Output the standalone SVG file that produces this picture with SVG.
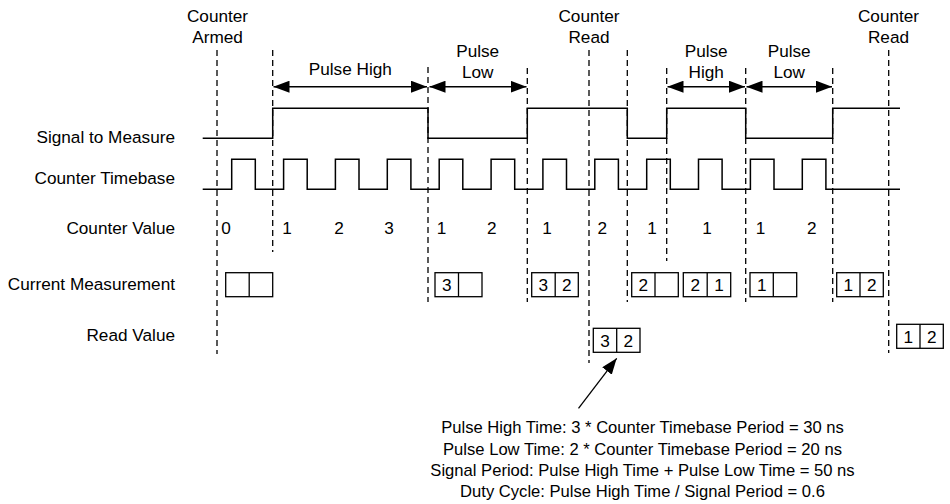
<svg xmlns="http://www.w3.org/2000/svg" width="950" height="504" viewBox="0 0 950 504">
<style>
text{font-family:"Liberation Sans",Arial,Helvetica,sans-serif;font-size:17.2px;fill:#000}
.r{text-anchor:end}
.m{text-anchor:middle}
.n{font-size:16.6px}
.dash{stroke:#000;stroke-width:1.3;stroke-dasharray:6 4;fill:none}
.wave{stroke:#000;stroke-width:1.5;fill:none}
.box{stroke:#000;stroke-width:1.3;fill:#fff}
.arr{stroke:#000;stroke-width:1.4;fill:none;marker-start:url(#ah);marker-end:url(#ah)}
</style>
<defs>
<marker id="ah" viewBox="0 0 16 12" refX="16" refY="6" markerWidth="16" markerHeight="12" markerUnits="userSpaceOnUse" orient="auto-start-reverse">
<path d="M0 0 L16 6 L0 12 Z" fill="#000"/>
</marker>
<marker id="ah2" viewBox="0 0 16 12" refX="16" refY="6" markerWidth="16" markerHeight="12" markerUnits="userSpaceOnUse" orient="auto">
<path d="M0 0 L16 6 L0 12 Z" fill="#000"/>
</marker>
</defs>
<rect width="950" height="504" fill="#fff"/>

<g id="row-labels">
<text class="r" x="175" y="142.7">Signal to Measure</text>
<text class="r" x="175" y="184.3">Counter Timebase</text>
<text class="r" x="175" y="234.3">Counter Value</text>
<text class="r" x="175" y="290">Current Measurement</text>
<text class="r" x="175" y="341">Read Value</text>
</g>

<g id="event-labels">
<text class="m" x="217.5" y="21.7">Counter</text>
<text class="m" x="217.5" y="42.5">Armed</text>
<text class="m" x="350.3" y="75">Pulse High</text>
<text class="m" x="477.7" y="57.3">Pulse</text>
<text class="m" x="477.7" y="77.5">Low</text>
<text class="m" x="589" y="21.7">Counter</text>
<text class="m" x="589" y="42.5">Read</text>
<text class="m" x="706.2" y="57.3">Pulse</text>
<text class="m" x="706.2" y="77.5">High</text>
<text class="m" x="789.2" y="57.3">Pulse</text>
<text class="m" x="789.2" y="77.5">Low</text>
<text class="m" x="888.5" y="21.7">Counter</text>
<text class="m" x="888.5" y="42.5">Read</text>
</g>

<g id="markers">
<line class="dash" x1="217" y1="50" x2="217" y2="354"/>
<line class="dash" x1="272.7" y1="50" x2="272.7" y2="252"/>
<line class="dash" x1="428" y1="67" x2="428" y2="302"/>
<line class="dash" x1="527.3" y1="68" x2="527.3" y2="302"/>
<line class="dash" x1="589" y1="50" x2="589" y2="363"/>
<line class="dash" x1="627.3" y1="50" x2="627.3" y2="302"/>
<line class="dash" x1="666.7" y1="68" x2="666.7" y2="261"/>
<line class="dash" x1="745.7" y1="68" x2="745.7" y2="302"/>
<line class="dash" x1="832.7" y1="68" x2="832.7" y2="302"/>
<line class="dash" x1="888.7" y1="50" x2="888.7" y2="353"/>
</g>

<g id="signal">
<path class="wave" d="M202.7 138.3 H272.7 V108.3 H428 V138.3 H527.3 V108.3 H627.3 V138.3 H666.7 V108.3 H745.7 V138.3 H832.7 V108.3 H900"/>
</g>

<g id="timebase">
<path class="wave" d="M202.7 189.3 H231.7 V159.3 H255.3 V189.3 H283.6 V159.3 H307.2 V189.3 H335.4 V159.3 H359 V189.3 H387.3 V159.3 H410.9 V189.3 H439.2 V159.3 H462.8 V189.3 H491.1 V159.3 H514.7 V189.3 H542.9 V159.3 H566.5 V189.3 H594.8 V159.3 H618.4 V189.3 H646.7 V159.3 H670.3 V189.3 H698.5 V159.3 H722.1 V189.3 H750.4 V159.3 H774 V189.3 H802.3 V159.3 H825.9 V189.3 H900"/>
</g>

<g id="counter-values">
<text class="m" x="226" y="234.3">0</text>
<text class="m" x="287" y="234.3">1</text>
<text class="m" x="339" y="234.3">2</text>
<text class="m" x="389" y="234.3">3</text>
<text class="m" x="441.5" y="234.3">1</text>
<text class="m" x="491.7" y="234.3">2</text>
<text class="m" x="547" y="234.3">1</text>
<text class="m" x="602.3" y="234.3">2</text>
<text class="m" x="652" y="234.3">1</text>
<text class="m" x="707" y="234.3">1</text>
<text class="m" x="760.5" y="234.3">1</text>
<text class="m" x="811.7" y="234.3">2</text>
</g>

<g id="current-measurement">
<g id="cm1"><rect class="box" x="225.7" y="272.7" width="47" height="24"/><line class="box" x1="249.2" y1="272.7" x2="249.2" y2="296.7"/></g>
<g id="cm2"><rect class="box" x="435" y="272.7" width="47" height="24"/><line class="box" x1="458.5" y1="272.7" x2="458.5" y2="296.7"/><text class="m" x="446.7" y="290.9">3</text></g>
<g id="cm3"><rect class="box" x="531.7" y="272.7" width="46.6" height="24"/><line class="box" x1="555.2" y1="272.7" x2="555.2" y2="296.7"/><text class="m" x="543.4" y="290.9">3</text><text class="m" x="566.8" y="290.9">2</text></g>
<g id="cm4"><rect class="box" x="631.7" y="272.7" width="46.6" height="24"/><line class="box" x1="655" y1="272.7" x2="655" y2="296.7"/><text class="m" x="643.4" y="290.9">2</text></g>
<g id="cm5"><rect class="box" x="683.3" y="272.7" width="47.4" height="24"/><line class="box" x1="707.2" y1="272.7" x2="707.2" y2="296.7"/><text class="m" x="695.2" y="290.9">2</text><text class="m" x="719" y="290.9">1</text></g>
<g id="cm6"><rect class="box" x="750" y="272.7" width="46.7" height="24"/><line class="box" x1="773.3" y1="272.7" x2="773.3" y2="296.7"/><text class="m" x="761.7" y="290.9">1</text></g>
<g id="cm7"><rect class="box" x="836.7" y="272.7" width="46.6" height="24"/><line class="box" x1="860" y1="272.7" x2="860" y2="296.7"/><text class="m" x="848.4" y="290.9">1</text><text class="m" x="871.7" y="290.9">2</text></g>
</g>

<g id="read-value">
<g id="rv1"><rect class="box" x="593.3" y="328.3" width="46.7" height="24"/><line class="box" x1="616.7" y1="328.3" x2="616.7" y2="352.3"/><text class="m" x="605" y="346.7">3</text><text class="m" x="628.4" y="346.7">2</text></g>
<g id="rv2"><rect class="box" x="896.7" y="324.3" width="46.6" height="24"/><line class="box" x1="920" y1="324.3" x2="920" y2="348.3"/><text class="m" x="908.4" y="342.7">1</text><text class="m" x="931.7" y="342.7">2</text></g>
</g>

<g id="connectors">
<line class="arr" x1="273.5" y1="86.7" x2="427" y2="86.7"/>
<line class="arr" x1="429.5" y1="86.7" x2="526.5" y2="86.7"/>
<line class="arr" x1="667.5" y1="86.7" x2="745" y2="86.7"/>
<line class="arr" x1="746.5" y1="86.7" x2="832" y2="86.7"/>
<line stroke="#000" stroke-width="1.3" marker-end="url(#ah2)" x1="578.5" y1="408.3" x2="616.7" y2="358.3"/>
</g>

<g id="notes">
<text class="m n" x="642.5" y="433.3">Pulse High Time: 3 * Counter Timebase Period = 30 ns</text>
<text class="m n" x="642.5" y="454.5">Pulse Low Time: 2 * Counter Timebase Period = 20 ns</text>
<text class="m n" x="642.5" y="475.8">Signal Period: Pulse High Time + Pulse Low Time = 50 ns</text>
<text class="m n" x="642.5" y="497">Duty Cycle: Pulse High Time / Signal Period = 0.6</text>
</g>
</svg>
